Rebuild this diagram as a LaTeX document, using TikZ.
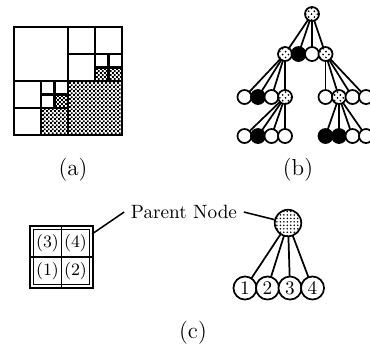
\documentclass[tikz,border=0pt]{standalone}
\usetikzlibrary{patterns, backgrounds, calc}

% Fine checkerboard used for the filled cells
\pgfdeclarepatternformonly{checks}{\pgfqpoint{0pt}{0pt}}{\pgfqpoint{2pt}{2pt}}{\pgfqpoint{2pt}{2pt}}{
	\pgfpathrectangle{\pgfqpoint{0pt}{0pt}}{\pgfqpoint{1pt}{1pt}}
	\pgfpathrectangle{\pgfqpoint{1pt}{1pt}}{\pgfqpoint{1pt}{1pt}}
	\pgfusepath{fill}
}
% Dense dots for the parent node
\pgfdeclarepatternformonly{densedots}{\pgfqpoint{-0.5pt}{-0.5pt}}{\pgfqpoint{0.5pt}{0.5pt}}{\pgfqpoint{1.8pt}{1.8pt}}{
	\pgfpathcircle{\pgfqpoint{0pt}{0pt}}{0.45pt}
	\pgfusepath{fill}
}

\begin{document}
\begin{tikzpicture}[
		x=0.52pt, y=-0.52pt,
		% Quadtree cells
		cellline/.style={line width=1.25pt},
		shaded/.style={pattern=checks},
		% Tree nodes
		leaf/.style={circle, draw, line width=0.9pt, fill=white, minimum size=7.3pt, inner sep=0pt},
		full/.style={leaf, fill=black},
		mixed/.style={leaf, postaction={pattern=crosshatch dots}},
		edge/.style={line width=0.9pt},
		% Part (c)
		gridbox/.style={draw, double, line width=0.8pt, double distance=0.9pt, minimum width=31pt, minimum height=30.5pt, inner sep=0pt},
		cellnum/.style={font=\small, inner sep=0pt},
		bigleaf/.style={circle, draw, line width=0.9pt, fill=white, minimum size=12pt, inner sep=0pt},
		parent/.style={bigleaf, minimum size=13.8pt, postaction={pattern=densedots}},
		caption/.style={font=\large}
		]
		
		\useasboundingbox (0,0) rectangle (370,343);
		
		% --- 1. Quadtree (a) ---
		\fill[shaded] (68,81) rectangle (122,135);
		\fill[shaded] (41,108) rectangle (68,135);
		\fill[shaded] (54.5,94.5) rectangle (68,108);
		\fill[shaded] (95,67.5) rectangle (122,81);
		\draw[cellline] (14,27) rectangle (122,135);
		\draw[cellline] (68,27) -- (68,135) (14,81) -- (122,81);
		\draw[cellline] (95,27) -- (95,81) (68,54) -- (122,54);
		\draw[cellline] (108.5,54) -- (108.5,81) (95,67.5) -- (122,67.5);
		\draw[cellline] (41,81) -- (41,135) (14,108) -- (68,108);
		\draw[cellline] (54.5,81) -- (54.5,108) (41,94.5) -- (68,94.5);
		\node[caption] (capa) at (73,170) {(a)};
		
		% --- 2. Tree (b) ---
		\node[mixed] (r) at (312,14) {};
		% level 1
		\node[mixed] (r1) at (285,54) {};
		\node[full] (r2) at (298.5,54) {};
		\node[leaf] (r3) at (312,54) {};
		\node[mixed] (r4) at (325.5,54) {};
		% level 2
		\node[leaf] (r11) at (244.5,97) {};
		\node[full] (r12) at (258,97) {};
		\node[leaf] (r13) at (271.5,97) {};
		\node[mixed] (r14) at (285,97) {};
		\node[leaf] (r41) at (325.5,97) {};
		\node[mixed] (r42) at (339,97) {};
		\node[leaf] (r43) at (352.5,97) {};
		\node[leaf] (r44) at (366,97) {};
		% level 3
		\node[leaf] (r141) at (244.5,136) {};
		\node[full] (r142) at (258,136) {};
		\node[leaf] (r143) at (271.5,136) {};
		\node[leaf] (r144) at (285,136) {};
		\node[full] (r421) at (325.5,136) {};
		\node[full] (r422) at (339,136) {};
		\node[leaf] (r423) at (352.5,136) {};
		\node[leaf] (r424) at (366,136) {};
		\begin{scope}[on background layer]
			\foreach \c in {1,...,4} {
				\draw[edge] (r.center) -- (r\c.center);
				\draw[edge] (r1.center) -- (r1\c.center);
				\draw[edge] (r4.center) -- (r4\c.center);
				\draw[edge] (r14.center) -- (r14\c.center);
				\draw[edge] (r42.center) -- (r42\c.center);
			}
		\end{scope}
		\node[caption] (capb) at (298,170) {(b)};
		
		% --- 3. Block and its node (c) ---
		\node[gridbox] (grid) at (61.5,257) {};
		\draw[line width=0.9pt] (grid.north) -- (grid.south) (grid.west) -- (grid.east);
		\node[cellnum] (q3) at (47.5,243) {(3)};
		\node[cellnum] (q4) at (75.5,243) {(4)};
		\node[cellnum] (q1) at (47.5,271) {(1)};
		\node[cellnum] (q2) at (75.5,271) {(2)};
		
		\node (pn) at (184,212) {Parent Node};
		\node[parent] (pc) at (288,223) {};
		\node[bigleaf] (c1) at (245,288) {1};
		\node[bigleaf] (c2) at (267.5,288) {2};
		\node[bigleaf] (c3) at (290,288) {3};
		\node[bigleaf] (c4) at (312.5,288) {4};
		\begin{scope}[on background layer]
			\foreach \c in {1,...,4}
				\draw[edge] (pc.center) -- (c\c.center);
		\end{scope}
		\draw[line width=0.8pt] (pn.west) -- (grid.37);
		\draw[line width=0.8pt] (pn.east) -- (pc);
		\node[caption] (capc) at (193,333) {(c)};
		
	\end{tikzpicture}
\end{document}
